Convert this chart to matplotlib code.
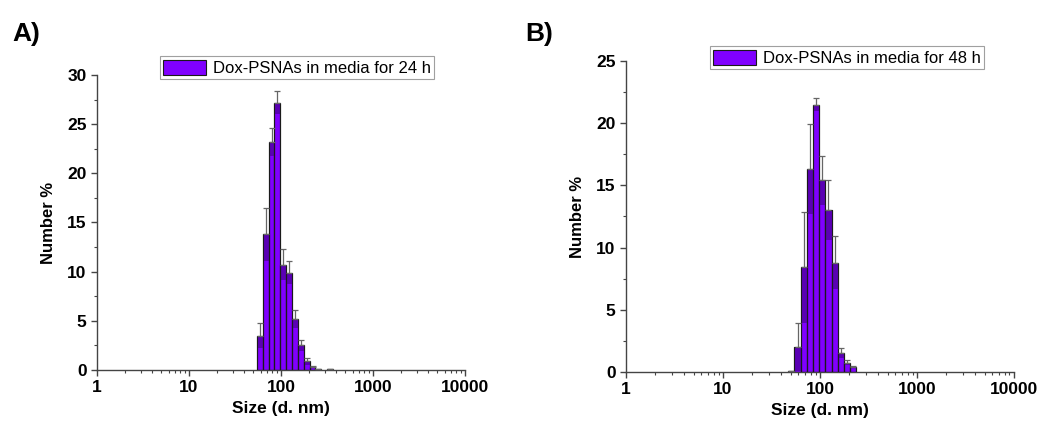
import numpy as np
import matplotlib
matplotlib.use("Agg")
import matplotlib.pyplot as plt
from matplotlib.ticker import FixedLocator, LogLocator, NullFormatter, MultipleLocator
from matplotlib.patches import Patch

plt.rcParams['font.family'] = ['Liberation Sans', 'DejaVu Sans']

# DLS size bins (d. nm)
sizes_a = [58.77, 68.06, 78.82, 91.28, 105.7, 122.4, 141.8, 164.2, 190.1, 220.2, 255.0, 342.0]
number_a = [3.5, 13.8, 23.2, 27.2, 10.7, 9.9, 5.2, 2.5, 0.9, 0.3, 0.1, 0.05]
err_a = [1.3, 2.7, 1.4, 1.2, 1.6, 1.2, 0.9, 0.55, 0.35, 0.1, 0.03, 0.0]

sizes_b = [50.75, 58.77, 68.06, 78.82, 91.28, 105.7, 122.4, 141.8, 164.2, 190.1, 220.2]
number_b = [0.1, 2.0, 8.4, 16.3, 21.5, 15.4, 13.0, 8.8, 1.5, 0.75, 0.38]
err_b = [0.0, 1.9, 4.5, 3.6, 0.5, 2.0, 2.4, 2.1, 0.4, 0.2, 0.07]

labels = ['Dox-PSNAs in media for 24 h', 'Dox-PSNAs in media for 48 h']
ymax = [30, 25]

bar_color = '#8000ff'
band_color = '#5a00b4'
ratio = 68.06 / 58.77

fig = plt.figure(figsize=(10.41, 4.26), dpi=100)
ax_a = fig.add_axes([0.0932, 0.1315, 0.3535, 0.6925])
ax_b = fig.add_axes([0.6013, 0.1268, 0.3727, 0.730])


def draw(ax, sizes, vals, errs, label, top, leg_anchor):
    sizes = np.array(sizes)
    vals = np.array(vals)
    errs = np.array(errs)
    left = sizes / np.sqrt(ratio)
    right = sizes * np.sqrt(ratio)
    ax.bar(left, vals, width=right - left, align='edge', color=bar_color,
           edgecolor='#1a1a1a', linewidth=0.8, zorder=2)
    # darker band for lower half of error
    low = np.clip(vals - errs, 0, None)
    ax.bar(left, vals - low, bottom=low, width=right - left, align='edge',
           color=band_color, edgecolor='none', linewidth=0, zorder=2.5)
    ax.bar(left, vals, width=right - left, align='edge', color='none',
           edgecolor='#1a1a1a', linewidth=0.8, zorder=2.6)
    ax.errorbar(sizes, vals, yerr=[np.zeros_like(errs), errs], fmt='none',
                ecolor='#666666', elinewidth=0.9, capsize=2.5, capthick=0.9, zorder=3)
    ax.set_xscale('log')
    ax.set_xlim(1, 10000)
    ax.set_ylim(0, top)
    ax.xaxis.set_major_locator(FixedLocator([1, 10, 100, 1000, 10000]))
    ax.xaxis.set_minor_locator(LogLocator(base=10, subs=np.arange(2, 10)))
    ax.xaxis.set_minor_formatter(NullFormatter())
    ax.set_xticklabels(['1', '10', '100', '1000', '10000'])
    ax.yaxis.set_major_locator(MultipleLocator(5))
    ax.yaxis.set_minor_locator(MultipleLocator(2.5))
    for s in ['top', 'right']:
        ax.spines[s].set_visible(False)
    for s in ['left', 'bottom']:
        ax.spines[s].set_color('#444444')
        ax.spines[s].set_linewidth(1.0)
    ax.tick_params(which='major', length=4, width=1.0, color='#444444', direction='out',
                   labelsize=12.5)
    ax.tick_params(which='minor', length=2.5, width=0.8, color='#444444', direction='out')
    for t in ax.get_xticklabels() + ax.get_yticklabels():
        t.set_fontweight('bold')
    ax.set_xlabel('Size (d. nm)', fontsize=12.5, fontweight='bold', labelpad=4)
    ax.set_ylabel('Number %', fontsize=12, fontweight='bold', labelpad=8)
    handle = Patch(facecolor=bar_color, edgecolor='#1a1a1a', linewidth=0.8)
    leg = ax.legend([handle], [label], loc='lower center', bbox_to_anchor=leg_anchor,
                    fontsize=12, frameon=True, fancybox=False, edgecolor='#888888',
                    handlelength=2.6, handleheight=1.0, borderpad=0.2, handletextpad=0.4,
                    borderaxespad=0.0)
    leg.get_frame().set_linewidth(0.8)


draw(ax_a, sizes_a, number_a, err_a, labels[0], ymax[0], (0.543, 0.986))
draw(ax_b, sizes_b, number_b, err_b, labels[1], ymax[1], (0.570, 0.974))

fig.text(0.012, 0.92, 'A)', fontsize=19, fontweight='bold', va='center')
fig.text(0.505, 0.92, 'B)', fontsize=19, fontweight='bold', va='center')

fig.savefig('out.png', dpi=100)
